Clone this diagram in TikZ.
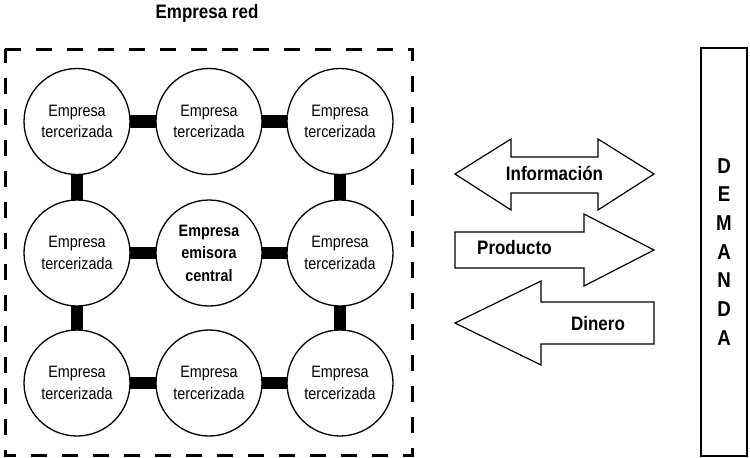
\documentclass[tikz,border=0pt]{standalone}
\usepackage{fontspec}
\setmainfont{Liberation Sans}[FakeStretch=0.87]
\usetikzlibrary{backgrounds}
\begin{document}
\begin{tikzpicture}[x=1pt,y=-1pt,
  firm/.style={circle, draw, line width=1.3pt, fill=white, minimum size=106pt, inner sep=0pt, align=center, font=\fontsize{16.5}{21.5}\selectfont},
  hub/.style={firm, font=\bfseries\fontsize{16.5}{22.5}\selectfont},
  link/.style={line width=12.5pt, black},
  flow/.style={draw, line width=1.2pt, fill=white, line join=miter},
  flowlabel/.style={font=\bfseries\fontsize{19.5}{20}\selectfont},
  title/.style={font=\bfseries\fontsize{19.5}{20}\selectfont},
  letter/.style={font=\bfseries\fontsize{21.5}{22}\selectfont, anchor=base, inner sep=0pt},
  frame/.style={draw, line width=3pt, dash pattern=on 16pt off 15pt},
]
\useasboundingbox (0,0) rectangle (750,458);

% title
\node[title, anchor=base] (ttl) at (207,18.5) {Empresa red};

% dashed frame
\draw[frame] (5,49) -- (412,49) -- (412,455) -- (5,455) -- cycle;

% firms
\node[firm] (a1) at (77,121.5)  {Empresa\\tercerizada};
\node[firm] (a2) at (209,121.5) {Empresa\\tercerizada};
\node[firm] (a3) at (340,121.5) {Empresa\\tercerizada};
\node[firm] (b1) at (77,253)    {Empresa\\tercerizada};
\node[hub]  (b2) at (209,253)   {Empresa\\emisora\\central};
\node[firm] (b3) at (340,253)   {Empresa\\tercerizada};
\node[firm] (c1) at (77,383)    {Empresa\\tercerizada};
\node[firm] (c2) at (209,383)   {Empresa\\tercerizada};
\node[firm] (c3) at (340,383)   {Empresa\\tercerizada};

\begin{scope}[on background layer]
  \draw[link] (a1.center) -- (a2.center);
  \draw[link] (a2.center) -- (a3.center);
  \draw[link] (b1.center) -- (b2.center);
  \draw[link] (b2.center) -- (b3.center);
  \draw[link] (c1.center) -- (c2.center);
  \draw[link] (c2.center) -- (c3.center);
  \draw[link] (a1.center) -- (b1.center);
  \draw[link] (b1.center) -- (c1.center);
  \draw[link] (a3.center) -- (b3.center);
  \draw[link] (b3.center) -- (c3.center);
\end{scope}

% flow arrows
\draw[flow] (455,174) -- (511,139) -- (511,157) -- (598,157) -- (598,139) -- (654,174)
  -- (598,210) -- (598,193) -- (511,193) -- (511,210) -- cycle;
\node[flowlabel, anchor=base] (info) at (554.5,180) {Información};

\draw[flow] (455,232) -- (584,232) -- (584,214) -- (654,250) -- (584,286) -- (584,268) -- (455,268) -- cycle;
\node[flowlabel, anchor=base west, inner sep=0pt] (prod) at (477,254.3) {Producto};

\draw[flow] (455,323) -- (541,281) -- (541,302) -- (654,302) -- (654,344) -- (541,344) -- (541,365) -- cycle;
\node[flowlabel, anchor=base] (din) at (598,330.7) {Dinero};

% demand column
\node[draw, line width=1.4pt, minimum width=46pt, minimum height=408pt, inner sep=0pt] (dem) at (724,252) {};
\foreach \l [count=\i from 0] in {D,E,M,A,N,D,A}
  \node[letter] (L\i) at (724,173+28.7*\i) {\l};
\end{tikzpicture}
\end{document}
